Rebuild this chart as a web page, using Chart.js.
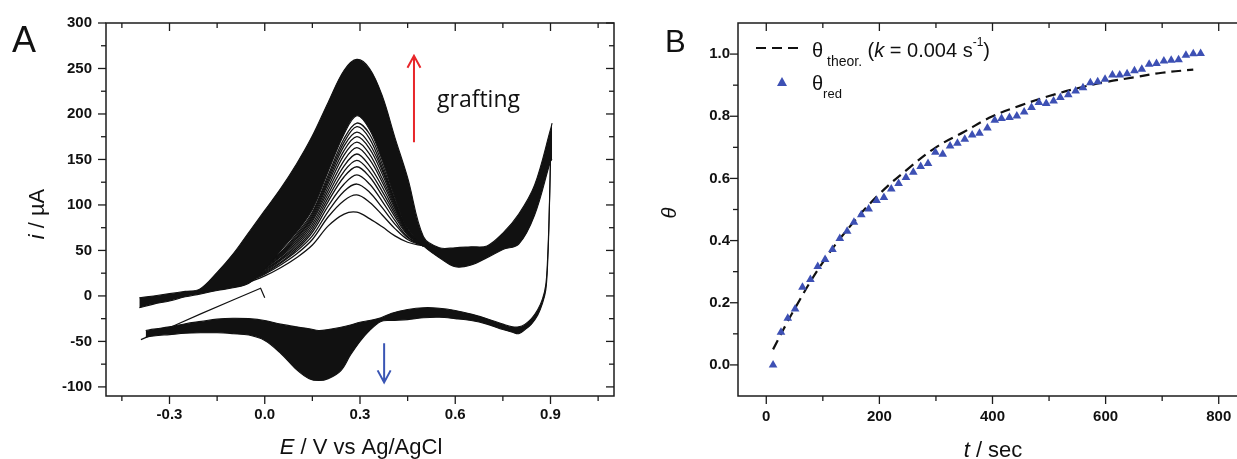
<!DOCTYPE html>
<html>
<head>
<meta charset="utf-8">
<script src="https://cdn.jsdelivr.net/npm/chart.js@4.4.1/dist/chart.umd.min.js"></script>
<style>
  html, body { margin: 0; padding: 0; background: #fff; overflow: hidden; width: 1237px; height: 459px; }
  canvas { position: absolute; top: 0; }
  #chartA { left: 0; width: 625px; height: 459px; }
  #chartB { left: 625px; width: 640px; height: 459px; }
</style>
</head>
<body>
<canvas id="chartA" width="625" height="459"></canvas>
<canvas id="chartB" width="640" height="459"></canvas>
<script>
// Panel A: voltammogrammes (E / V, i / µA), lus sur l'image
// premier balayage 0 V -> -0.39 V
const firstSweepE = [0.0, -0.013, -0.1, -0.2, -0.288, -0.35, -0.39];
const firstSweepI = [-2, 8.5, -4.5, -19.5, -33, -42, -48];

// bande dense du balayage aller (bord haut = dernier cycle, bord bas)
const anodicE    = [-0.395, -0.35, -0.3, -0.25, -0.205, -0.15, -0.1, -0.05, 0.0, 0.05, 0.1, 0.15, 0.2, 0.25, 0.29, 0.33, 0.37, 0.41, 0.45, 0.5, 0.55, 0.6, 0.65, 0.7, 0.75, 0.8, 0.85, 0.9, 0.905];
const anodicHigh = [-2, 0, 2.5, 5, 7.5, 26, 46, 70, 94, 118, 145, 176, 213, 248, 260, 250, 220, 174, 130, 65, 53, 53, 54, 55, 69, 90, 122, 183, 190];
const anodicLow  = [-13, -9, -5.5, -1, 2, 6, 9, 14, 30, 50, 70, 95, 137, 178, 198, 183, 149, 108, 74, 55, 42, 32, 34, 42, 51, 57, 89, 148, 150];

// bande du balayage retour (pic de réduction)
const cathodicE      = [0.9, 0.895, 0.89, 0.885, 0.875, 0.86, 0.84, 0.82, 0.8, 0.78, 0.75, 0.7, 0.65, 0.6, 0.55, 0.5, 0.45, 0.4, 0.366, 0.33, 0.3, 0.27, 0.24, 0.2, 0.17, 0.14, 0.1, 0.05, 0.0, -0.05, -0.1, -0.15, -0.2, -0.25, -0.3, -0.35, -0.375];
const cathodicTop    = [150, 80, 35, 12, -3, -15, -25, -31, -34, -34, -31, -25, -20, -16, -13.5, -13, -15, -19, -24, -27, -29, -32, -34.5, -37, -38, -36, -34, -31, -27, -25, -24.5, -25.5, -28, -30.5, -34, -36.5, -38];
const cathodicBottom = [150, 75, 28, 6, -8, -21, -31, -37, -41.5, -40, -37, -31, -27, -25, -23.5, -24, -26, -27, -28, -38, -50, -65, -82, -91, -93, -91, -81, -63, -49, -43, -41.5, -40.5, -40.5, -41, -42.5, -44, -45.5];

// premiers cycles, encore séparés autour du pic d'oxydation
const earlyE = [-0.05, 0.0, 0.05, 0.1, 0.15, 0.2, 0.25, 0.29, 0.33, 0.37, 0.41, 0.45, 0.5];
const earlyCycleI = [
  [15, 22, 31, 42, 56, 77, 90, 92, 85, 76, 66, 59, 55],
  [16, 24, 34, 46, 62, 87, 105, 111, 103, 89, 74, 62, 55],
  [17, 25, 36, 49, 66, 93, 115, 123, 114, 97, 79, 64, 55],
  [17, 26, 37, 51, 70, 99, 123, 133, 123, 104, 83, 65, 55],
  [18, 27, 39, 53, 73, 104, 131, 142, 131, 110, 87, 67, 55],
  [18, 28, 40, 55, 76, 108, 137, 149, 137, 115, 90, 68, 55],
  [19, 29, 41, 57, 79, 112, 143, 156, 143, 120, 93, 69, 55],
  [19, 30, 43, 59, 82, 116, 149, 163, 150, 125, 96, 70, 55],
  [20, 31, 44, 61, 84, 120, 155, 169, 156, 129, 98, 70, 55],
  [20, 32, 45, 63, 86, 124, 160, 175, 162, 134, 100, 71, 55],
  [21, 33, 46, 64, 88, 127, 165, 180, 167, 138, 102, 71, 55],
  [21, 34, 47, 66, 90, 130, 169, 186, 173, 141, 104, 72, 55],
  [22, 35, 48, 68, 92, 133, 173, 190, 178, 145, 105, 72, 55],
];

const aXMajor = [-0.3, 0.0, 0.3, 0.6, 0.9];
const aXMinor = [-0.45, -0.15, 0.15, 0.45, 0.75, 1.05];
const aYMajor = [-100, -50, 0, 50, 100, 150, 200, 250, 300];
const aYMinor = [-75, -25, 25, 75, 125, 175, 225, 275];

// Panel B: taux de recouvrement
const tSec = [12, 26, 38, 51, 64, 78, 91, 104, 117, 130, 143, 155, 168, 181, 195, 208, 221, 234, 247, 260,
  273, 286, 299, 312, 325, 338, 351, 364, 377, 391, 404, 416, 430, 443, 456, 469, 482, 495, 508, 520,
  534, 547, 560, 573, 586, 599, 612, 625, 638, 651, 664, 677, 690, 703, 716, 729, 742, 755, 768];
const thetaRed = [0.00, 0.105, 0.15, 0.18, 0.25, 0.275, 0.317, 0.339, 0.371, 0.407, 0.43, 0.459, 0.483, 0.502, 0.529, 0.539, 0.566, 0.584, 0.603, 0.620,
  0.638, 0.648, 0.684, 0.678, 0.704, 0.713, 0.726, 0.740, 0.745, 0.762, 0.787, 0.793, 0.796, 0.801, 0.814, 0.828, 0.844, 0.841, 0.849, 0.860,
  0.869, 0.881, 0.892, 0.908, 0.911, 0.919, 0.933, 0.933, 0.937, 0.946, 0.951, 0.967, 0.970, 0.978, 0.980, 0.982, 0.996, 1.001, 1.002];
const tTheor     = [12, 50, 100, 150, 200, 250, 300, 350, 400, 450, 500, 550, 600, 650, 700, 755];
const thetaTheor = [0.05, 0.18, 0.33, 0.45, 0.55, 0.63, 0.70, 0.75, 0.80, 0.835, 0.865, 0.89, 0.91, 0.925, 0.94, 0.95];

const bXMajor = [0, 200, 400, 600, 800];
const bXMinor = [100, 300, 500, 700];
const bYMajor = [0, 0.2, 0.4, 0.6, 0.8, 1.0];
const bYMinor = [0.1, 0.3, 0.5, 0.7, 0.9];

const FONT  = "'Liberation Sans', Arial, sans-serif";
const INK   = '#111';
const BLUE  = '#3d50b4';

const pts = (xs, ys) => xs.map((v, i) => ({ x: v, y: ys[i] }));
const has = (list, v) => list.some(m => Math.abs(m - v) < 1e-9);

function buildTicks(major, minor) {
  return scale => {
    scale.ticks = major.concat(minor).sort((a, b) => a - b).map(v => ({ value: v }));
  };
}

function axis(min, max, major, minor, fit, padding, fmt) {
  return {
    type: 'linear', min, max,
    afterBuildTicks: buildTicks(major, minor),
    afterFit: fit,
    grid: { display: false, drawTicks: false, tickLength: 0 },
    border: { display: false },
    ticks: {
      autoSkip: false, maxRotation: 0, padding, color: INK,
      font: { family: FONT, size: 15, weight: 'bold' },
      callback: v => has(major, v) ? fmt(v) : '',
    },
  };
}

// cadre + graduations (extérieures à gauche/en bas, intérieures en haut/à droite)
function drawFrame(chart, xMaj, xMin, yMaj, yMin) {
  const { ctx, chartArea: a } = chart;
  const sx = chart.scales.x, sy = chart.scales.y;
  ctx.save();
  ctx.strokeStyle = '#1c1c1c';
  ctx.lineWidth = 1.5;
  ctx.strokeRect(a.left, a.top, a.right - a.left, a.bottom - a.top);
  ctx.lineWidth = 1.3;
  const seg = (x1, y1, x2, y2) => { ctx.beginPath(); ctx.moveTo(x1, y1); ctx.lineTo(x2, y2); ctx.stroke(); };
  [[xMaj, 8], [xMin, 5]].forEach(([vals, len]) => vals.forEach(v => {
    const px = sx.getPixelForValue(v);
    seg(px, a.bottom, px, a.bottom + len);
    seg(px, a.top, px, a.top + len);
  }));
  [[yMaj, 8], [yMin, 5]].forEach(([vals, len]) => vals.forEach(v => {
    const py = sy.getPixelForValue(v);
    seg(a.left - len, py, a.left, py);
    seg(a.right, py, a.right - len, py);
  }));
  ctx.restore();
}

// texte en plusieurs morceaux (italique / normal / indices)
function drawRuns(ctx, runs, x, y, align) {
  let w = 0;
  runs.forEach(r => { ctx.font = r.f; w += ctx.measureText(r.t).width; });
  let cx = align === 'center' ? x - w / 2 : x;
  runs.forEach(r => {
    ctx.font = r.f;
    ctx.fillText(r.t, cx, y + (r.dy || 0));
    cx += ctx.measureText(r.t).width;
  });
}

function arrow(ctx, x, yFrom, yTo, color) {
  const dir = yTo < yFrom ? 1 : -1;
  ctx.save();
  ctx.strokeStyle = color;
  ctx.lineWidth = 2;
  ctx.beginPath();
  ctx.moveTo(x, yFrom); ctx.lineTo(x, yTo);
  ctx.moveTo(x - 6.5, yTo + dir * 12); ctx.lineTo(x, yTo); ctx.lineTo(x + 6.5, yTo + dir * 12);
  ctx.stroke();
  ctx.restore();
}

const decorA = {
  id: 'decorA',
  afterDraw(chart) {
    const { ctx } = chart;
    const sx = chart.scales.x, sy = chart.scales.y;
    drawFrame(chart, aXMajor, aXMinor, aYMajor, aYMinor);

    ctx.save();
    ctx.fillStyle = INK;
    ctx.textAlign = 'left';
    ctx.textBaseline = 'alphabetic';
    ctx.font = `36px ${FONT}`;
    ctx.fillText('A', 12, 52);

    drawRuns(ctx, [
      { t: 'E', f: `italic 22px ${FONT}` },
      { t: ' / V vs Ag/AgCl', f: `22px ${FONT}` },
    ], 361, 454, 'center');

    ctx.save();
    ctx.translate(44, 214);
    ctx.rotate(-Math.PI / 2);
    drawRuns(ctx, [
      { t: 'i', f: `italic 22px ${FONT}` },
      { t: ' / µA', f: `22px ${FONT}` },
    ], 0, 0, 'center');
    ctx.restore();

    ctx.font = `23px 'Open Sans', ${FONT}`;
    ctx.fillText('grafting', 437, 107);
    ctx.restore();

    arrow(ctx, sx.getPixelForValue(0.47), sy.getPixelForValue(169), sy.getPixelForValue(264), '#e8262a');
    arrow(ctx, sx.getPixelForValue(0.376), sy.getPixelForValue(-52), sy.getPixelForValue(-95), '#3a55b4');
  }
};

const decorB = {
  id: 'decorB',
  afterDraw(chart) {
    const { ctx } = chart;
    drawFrame(chart, bXMajor, bXMinor, bYMajor, bYMinor);

    ctx.save();
    ctx.fillStyle = INK;
    ctx.textAlign = 'left';
    ctx.textBaseline = 'alphabetic';
    ctx.font = `31px ${FONT}`;
    ctx.fillText('B', 40, 52);

    drawRuns(ctx, [
      { t: 't', f: `italic 22px ${FONT}` },
      { t: ' / sec', f: `22px ${FONT}` },
    ], 368, 457, 'center');

    ctx.save();
    ctx.translate(51, 213);
    ctx.rotate(-Math.PI / 2);
    drawRuns(ctx, [{ t: 'θ', f: `italic 20px ${FONT}` }], 0, 0, 'center');
    ctx.restore();

    // légende
    ctx.strokeStyle = INK;
    ctx.lineWidth = 2.2;
    ctx.setLineDash([10, 6]);
    ctx.beginPath();
    ctx.moveTo(131, 48); ctx.lineTo(178, 48);
    ctx.stroke();
    ctx.setLineDash([]);

    drawRuns(ctx, [
      { t: 'θ', f: `20px ${FONT}` },
      { t: ' theor.', f: `14px ${FONT}`, dy: 9 },
      { t: ' (', f: `20px ${FONT}` },
      { t: 'k', f: `italic 20px ${FONT}` },
      { t: ' = 0.004 s', f: `20px ${FONT}` },
      { t: '-1', f: `12px ${FONT}`, dy: -11 },
      { t: ')', f: `20px ${FONT}` },
    ], 187, 57, 'left');

    ctx.fillStyle = BLUE;
    ctx.beginPath();
    ctx.moveTo(157, 77); ctx.lineTo(162, 86); ctx.lineTo(152, 86);
    ctx.closePath();
    ctx.fill();

    ctx.fillStyle = INK;
    drawRuns(ctx, [
      { t: 'θ', f: `20px ${FONT}` },
      { t: 'red', f: `13px ${FONT}`, dy: 8 },
    ], 187, 90, 'left');
    ctx.restore();
  }
};

const lineStyle = (width, extra) => Object.assign({
  borderColor: INK, borderWidth: width, pointRadius: 0, tension: 0.35, fill: false,
}, extra);

const datasetsA = [
  lineStyle(1.1, { data: pts(anodicE, anodicHigh), backgroundColor: INK, fill: '+1' }),
  lineStyle(1.1, { data: pts(anodicE, anodicLow) }),
  lineStyle(1.1, { data: pts(cathodicE, cathodicTop), backgroundColor: INK, fill: '+1' }),
  lineStyle(1.1, { data: pts(cathodicE, cathodicBottom) }),
  ...earlyCycleI.map(ys => lineStyle(1.3, { data: pts(earlyE, ys) })),
  lineStyle(1.2, { data: pts(firstSweepE, firstSweepI), tension: 0 }),
];

new Chart(document.getElementById('chartA'), {
  type: 'line',
  data: { datasets: datasetsA },
  options: {
    responsive: false,
    animation: false,
    events: [],
    layout: { padding: { top: 21, right: 11, left: 0, bottom: 0 } },
    plugins: { legend: { display: false }, tooltip: { enabled: false } },
    scales: {
      x: axis(-0.5, 1.1, aXMajor, aXMinor, s => { s.height = 63; }, 10, v => v.toFixed(1)),
      y: axis(-110, 300, aYMajor, aYMinor, s => { s.width = 106; }, 14, v => String(v)),
    },
  },
  plugins: [decorA],
});

new Chart(document.getElementById('chartB'), {
  type: 'scatter',
  data: {
    datasets: [
      {
        data: pts(tSec, thetaRed),
        pointStyle: 'triangle', pointRadius: 5, backgroundColor: BLUE, borderWidth: 0,
        order: 0,
      },
      {
        data: pts(tTheor, thetaTheor),
        showLine: true, borderColor: INK, borderWidth: 2.2, borderDash: [10, 6],
        pointRadius: 0, tension: 0.4, fill: false,
        order: 1,
      },
    ],
  },
  options: {
    responsive: false,
    animation: false,
    events: [],
    layout: { padding: { top: 23, right: 18, left: 0, bottom: 0 } },
    plugins: { legend: { display: false }, tooltip: { enabled: false } },
    scales: {
      x: axis(-50, 850, bXMajor, bXMinor, s => { s.height = 63; }, 12, v => String(v)),
      y: axis(-0.1, 1.1, bYMajor, bYMinor, s => { s.width = 113; }, 8, v => v.toFixed(1)),
    },
  },
  plugins: [decorB],
});
</script>
</body>
</html>
